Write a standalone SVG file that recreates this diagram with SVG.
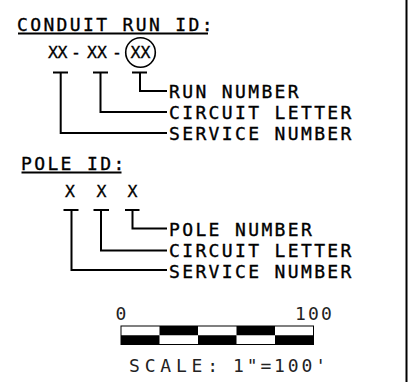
<svg xmlns="http://www.w3.org/2000/svg" width="409" height="382" viewBox="0 0 409 382">
<style>
.t{font-family:"DejaVu Sans Mono","Liberation Mono",monospace;font-size:18px;fill:#000;stroke:#000;stroke-width:0.35px;letter-spacing:2.36px}
.x{font-family:"DejaVu Sans Mono","Liberation Mono",monospace;font-size:16.5px;fill:#000;stroke:#000;stroke-width:0.3px;text-anchor:middle}
.l{fill:none;stroke:#000;stroke-width:2;stroke-linecap:butt}
.thin{font-family:"DejaVu Sans Mono","Liberation Mono",monospace;font-size:18px;fill:#222}
</style>
<rect width="409" height="382" fill="#fff"/>
<line x1="406.5" y1="0" x2="406.5" y2="382" stroke="#000" stroke-width="2"/>

<g id="conduit-title">
<text class="t" x="17" y="30.5">CONDUIT RUN ID:</text>
<line class="l" x1="18" y1="33.5" x2="208" y2="33.5" stroke-width="1.5"/>
</g>
<g id="conduit-code">
<text class="x" x="53" y="57.5">X</text>
<text class="x" x="62.5" y="57.5">X</text>
<text class="x" x="76" y="57.5">-</text>
<text class="x" x="92" y="57.5">X</text>
<text class="x" x="102" y="57.5">X</text>
<text class="x" x="117" y="57.5">-</text>
<text class="x" x="135.5" y="57.5">X</text>
<text class="x" x="145.5" y="57.5">X</text>
<circle cx="140.5" cy="52.5" r="14.8" fill="none" stroke="#000" stroke-width="1.6"/>
</g>
<g id="conduit-run-number"><text class="t" x="169" y="97.5">RUN NUMBER</text></g>
<g id="conduit-circuit-letter"><text class="t" x="169" y="118.5">CIRCUIT LETTER</text></g>
<g id="conduit-service-number"><text class="t" x="169" y="140">SERVICE NUMBER</text></g>

<g id="pole-title">
<text class="t" x="21" y="169.5">POLE ID:</text>
<line class="l" x1="21.5" y1="172.5" x2="121.5" y2="172.5" stroke-width="1.5"/>
</g>
<g id="pole-code">
<text class="x" x="70" y="196.5">X</text>
<text class="x" x="101.5" y="196.5">X</text>
<text class="x" x="132.5" y="196.5">X</text>
</g>
<g id="pole-pole-number"><text class="t" x="169" y="235.5">POLE NUMBER</text></g>
<g id="pole-circuit-letter"><text class="t" x="169" y="257">CIRCUIT LETTER</text></g>
<g id="pole-service-number"><text class="t" x="169" y="277.5">SERVICE NUMBER</text></g>

<g id="connectors">
<path class="l" d="M132 72.5H147M140 72.5V91H167"/>
<path class="l" d="M93 72.5H108M100.5 72.5V112H167"/>
<path class="l" d="M53 72.5H68M60.7 72.5V133H167"/>
<path class="l" d="M125 210H139.5M132.5 210V228.5H167"/>
<path class="l" d="M93.5 210H109M101 210V250.5H167"/>
<path class="l" d="M63.5 210H78.5M71.5 210V270H167"/>
</g>

<g id="scale-bar">
<text class="thin" x="121" y="319.5" text-anchor="middle">0</text>
<text class="thin" x="295" y="319.5" letter-spacing="2.2">100</text>
<rect x="121" y="326" width="192.5" height="18.5" fill="#fff"/>
<rect x="159.5" y="326" width="38.5" height="9.25" fill="#000"/>
<rect x="236.5" y="326" width="38.5" height="9.25" fill="#000"/>
<rect x="121" y="335.25" width="38.5" height="9.25" fill="#000"/>
<rect x="198" y="335.25" width="38.5" height="9.25" fill="#000"/>
<rect x="275" y="335.25" width="38.5" height="9.25" fill="#000"/>
<rect x="121" y="326" width="192.5" height="18.5" fill="none" stroke="#000" stroke-width="1"/>
<text class="thin" x="129" y="372" textLength="89" lengthAdjust="spacing">SCALE:</text>
<text class="thin" x="233" y="372" textLength="93" lengthAdjust="spacing">1"=100'</text>
</g>
</svg>
